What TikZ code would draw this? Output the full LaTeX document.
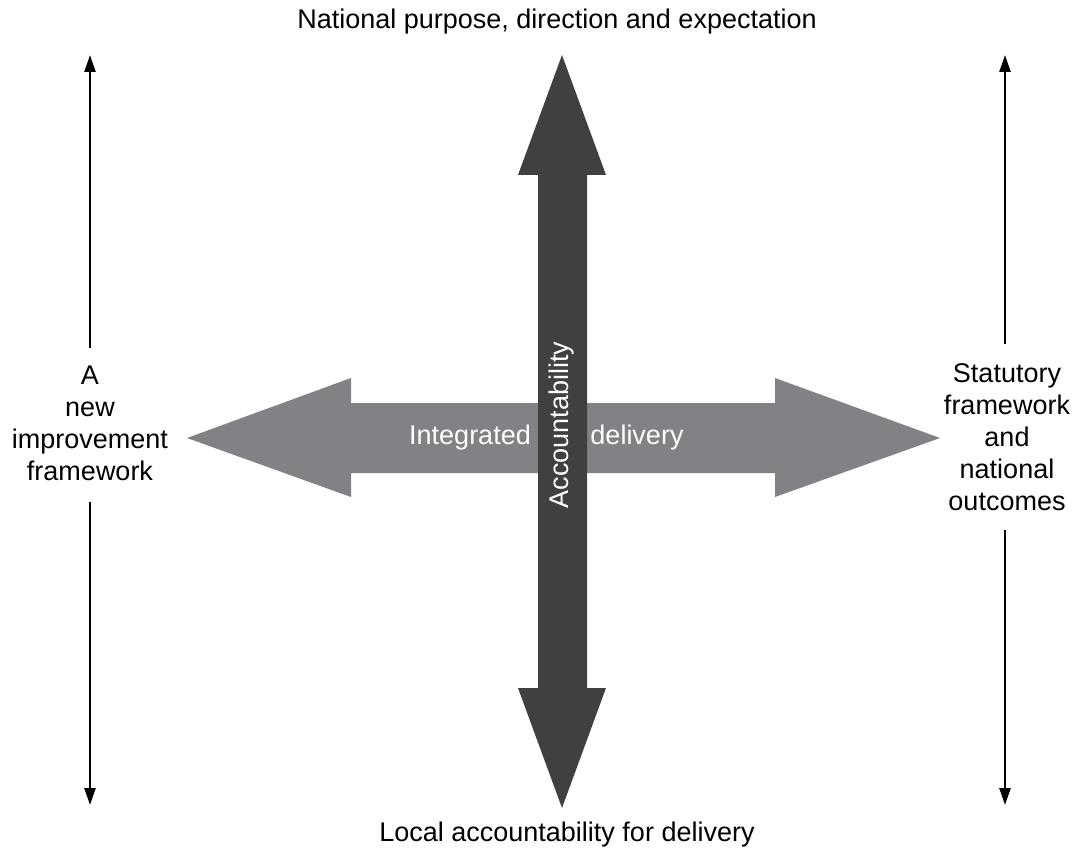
\documentclass[tikz,border=0pt]{standalone}
\usepackage{fontspec}
\setmainfont{Liberation Sans}
\usetikzlibrary{arrows.meta}
\definecolor{darkarrow}{RGB}{64,64,64}
\definecolor{greyarrow}{RGB}{128,130,133}
\tikzset{
  label/.style={font=\fontsize{27}{32}\selectfont, align=center, inner sep=0pt},
  inlabel/.style={label, text=white},
  thinarrow/.style={line width=2.5pt, -{Triangle[width=11pt,length=17pt]}}
}

\begin{document}
\begin{tikzpicture}[x=1pt, y=-1pt]
\useasboundingbox (0, 0) rectangle (1077, 856);
% big arrows
\fill [greyarrow] (187, 438) -- (351, 378) -- (351, 403) -- (775, 403) -- (775, 378) -- (940, 438)
  -- (775, 497) -- (775, 473) -- (351, 473) -- (351, 497) -- cycle;
\fill [darkarrow] (562, 55) -- (606, 175) -- (587, 175) -- (587, 688) -- (606, 688) -- (562, 808)
  -- (518, 688) -- (538, 688) -- (538, 175) -- (518, 175) -- cycle;
\node [inlabel] (integrated) at (470, 438) {Integrated};
\node [inlabel] (delivery) at (637, 438) {delivery};
\node [inlabel, rotate=90] (account) at (562, 425) {Accountability};
% outer labels
\node [label] (national) at (557, 22) {National purpose, direction and expectation};
\node [label] (local) at (567, 835) {Local accountability for delivery};
\node [label] (improve) at (90, 423) {A\\new\\improvement\\framework};
\node [label] (statutory) at (1007, 437) {Statutory\\framework\\and\\national\\outcomes};
% thin arrows
\coordinate (lefttop) at (90, 55);
\coordinate (leftbottom) at (90, 805);
\coordinate (righttop) at (1005, 55);
\coordinate (rightbottom) at (1005, 805);
\draw [thinarrow] (improve.north -| lefttop) ++(0, -17) -- (lefttop);
\draw [thinarrow] (improve.south -| leftbottom) ++(0, 21) -- (leftbottom);
\draw [thinarrow] (statutory.north -| righttop) ++(0, -19) -- (righttop);
\draw [thinarrow] (statutory.south -| rightbottom) ++(0, 19) -- (rightbottom);
\end{tikzpicture}
\end{document}
